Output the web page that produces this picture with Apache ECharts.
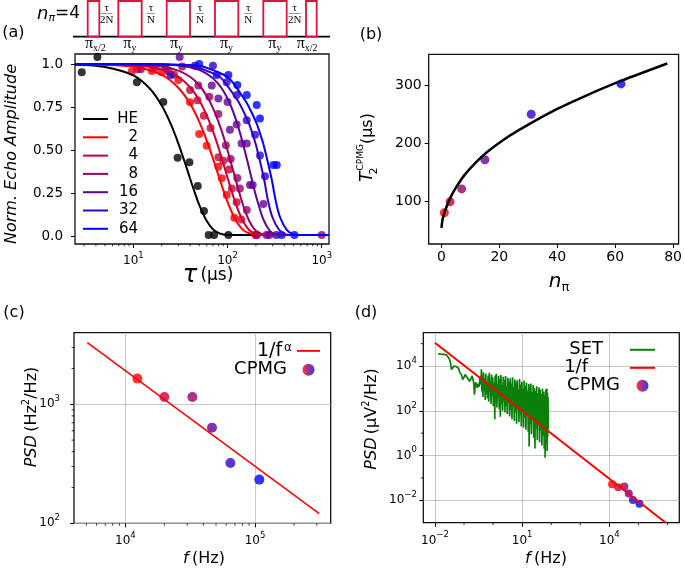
<!DOCTYPE html>
<html><head><meta charset="utf-8">
<script src="https://cdn.jsdelivr.net/npm/echarts@6/dist/echarts.min.js"></script>
<style>html,body{margin:0;padding:0;background:#fff}#c{width:685px;height:572px}</style>
</head><body><div id="c"></div>
<script>
// ---------- Panel (a): normalized echo amplitude vs tau (µs) ----------
const seqNames = ['HE','2','4','8','16','32','64'];
const seqColors = ['#000000','#ff0000','#cc0033','#990066','#660099','#3300cc','#0000ff'];
const ptsHE = [[2.83,0.952],[4.15,1.04],[10.9,0.894],[20.8,0.78],[29.5,0.457],[39.4,0.431],[48.3,0.294],[56.2,0.149],[63,0.01],[72,0.01],[102,0.01]];
const pts2  = [[9.6,0.956],[15.7,0.96],[20,0.952],[30,0.907],[40,0.778],[50,0.595],[60,0.527],[80,0.405],[87,0.338],[98,0.241],[118,0.11],[200,0.01]];
const pts4  = [[11,0.97],[17,0.975],[27,0.94],[40,0.85],[48,0.79],[56,0.70],[66,0.63],[80,0.46],[90,0.44],[104,0.39],[111,0.28],[125,0.20],[140,0.10],[205,0.01]];
const pts8  = [[12,0.97],[23.5,0.96],[33,0.985],[49,0.875],[64,0.81],[80,0.71],[96,0.53],[108,0.45],[127,0.34],[135,0.28],[160,0.155],[200,0.01],[1000,0.01]];
const pts16 = [[22,0.98],[31,1.04],[68,0.875],[80,0.80],[100,0.78],[106,0.62],[125,0.65],[141,0.54],[160,0.54],[173,0.30],[185,0.30],[240,0.19],[260,0.01],[278,0.01]];
const pts32 = [[45,0.99],[70,0.99],[98,0.895],[125,0.82],[160,0.675],[196,0.59],[221,0.47],[250,0.35],[330,0.01]];
const pts64 = [[24.9,0.936],[50,1.0],[76.7,0.936],[102,0.936],[127,0.878],[160,0.82],[204,0.763],[221,0.685],[307,0.415],[333,0.415],[376,0.01],[513,0.01]];
const fitHE = [[2.4,0.996],[5,0.983],[10,0.934],[15,0.857],[20,0.76],[25,0.652],[30,0.541],[35,0.434],[40,0.337],[45,0.254],[50,0.185],[60,0.092],[70,0.043],[80,0.022],[90,0.013],[100,0.011],[150,0.01],[1195,0.01]];
const fit2  = [[2.4,1.0],[10,0.984],[20,0.937],[30,0.863],[40,0.771],[50,0.666],[60,0.558],[70,0.453],[80,0.356],[90,0.271],[100,0.201],[120,0.103],[140,0.05],[160,0.025],[200,0.011],[250,0.01],[1195,0.01]];
const fit4  = [[2.4,1.0],[10,0.993],[20,0.969],[30,0.926],[40,0.866],[50,0.79],[60,0.704],[70,0.611],[80,0.517],[90,0.426],[100,0.342],[120,0.203],[140,0.11],[160,0.056],[180,0.028],[220,0.012],[260,0.01],[1195,0.01]];
const fit8  = [[2.4,1.0],[10,0.997],[20,0.986],[30,0.962],[40,0.926],[50,0.877],[60,0.816],[70,0.745],[80,0.667],[90,0.585],[100,0.501],[120,0.345],[140,0.216],[160,0.124],[180,0.066],[200,0.035],[250,0.012],[300,0.01],[1195,0.01]];
const fit16 = [[2.4,1.0],[20,0.997],[40,0.981],[60,0.945],[80,0.885],[100,0.8],[120,0.694],[140,0.575],[160,0.453],[180,0.338],[200,0.238],[240,0.1],[280,0.036],[320,0.015],[400,0.01],[1195,0.01]];
const fit32 = [[2.4,1.0],[17,0.998],[41,0.99],[64,0.955],[83,0.925],[95,0.89],[117,0.82],[133,0.775],[151,0.715],[169,0.655],[186,0.59],[199,0.537],[225,0.42],[245,0.33],[271,0.2],[301,0.11],[353,0.04],[415,0.014],[500,0.01],[1195,0.01]];
const fit64 = [[2.4,1.0],[20,0.998],[50,0.99],[77,0.955],[100,0.925],[115,0.89],[141,0.82],[160,0.775],[182,0.715],[204,0.655],[224,0.59],[240,0.537],[271,0.42],[295,0.33],[327,0.2],[363,0.11],[425,0.04],[500,0.014],[600,0.01],[1195,0.01]];
const aXMajor = [10,100,1000];
const aXMinor = [3,4,5,6,7,8,9,20,30,40,50,60,70,80,90,200,300,400,500,600,700,800,900];
const aYTicks = [0,0.25,0.5,0.75,1];
const aYLabels = ['0.0','0.25','0.50','0.75','1.0'];

// ---------- Panel (b): T2 vs number of pi pulses ----------
const bN = [1,3,7,15,31,62];
const bT2 = [81,100,122,172,250,302];
const bFit = [[0,55],[0.5,72],[1.5,88],[3,106],[5,124],[8,146],[12,168],[16,186],[22,208],[30,232],[40,259],[50,282],[62,307],[78,337]];
const bXTicks = [0,20,40,60,80];
const bYTicks = [100,200,300];

// ---------- Panel (c): PSD from CPMG ----------
const cpmgColors = ['#ff0000','#cc0033','#990066','#660099','#3300cc','#0000ff'];
const cF = [12380,20000,32900,46600,64600,108000];
const cPSD = [1645,1152,1152,637,321,233];
const cFit = [[5090,3300],[313000,120.5]];
const cXMajor = [1e4,1e5];
const cXMinor = [5000,6000,7000,8000,9000,20000,30000,40000,50000,60000,70000,80000,90000,200000,300000];
const cYMajor = [100,1000];
const cYMinor = [200,300,400,500,600,700,800,900,2000,3000];

// ---------- Panel (d): SET noise spectrum, 1/f and CPMG ----------
const setLogF = [-1.89,-1.80,-1.70,-1.60,-1.55,-1.50,-1.46,-1.43,-1.39,-1.35,-1.31,-1.27,-1.23,-1.19,-1.15,-1.11,-1.08,-1.05,-1.02,-0.99,-0.96,-0.93,-0.90,-0.87,-0.84,-0.81,-0.78,-0.75,-0.72,-0.69,-0.66,-0.64,-0.62,-0.60,-0.58,-0.56,-0.54,-0.52,-0.50,-0.48,-0.46,-0.44,-0.42,-0.40,-0.39,-0.38,
 -0.37,-0.35,-0.33,-0.31,-0.29,-0.27,-0.25,-0.23,-0.21,-0.19,-0.17,-0.15,-0.13,-0.11,-0.09,-0.07,-0.05,-0.03,-0.01,0.01,0.03,0.05,0.06,0.07,0.09,0.11,0.13,0.15,0.17,0.19,0.21,0.23,0.25,0.27,0.29,0.31,0.33,0.35,0.37,0.39,0.41,0.43,0.45,0.47,0.49,0.51,0.53,0.55,0.57,0.59,0.61,0.63,0.65,0.67,0.69,0.71,0.73,0.75,0.77,0.79,0.81,0.83,0.85,0.87,0.89,0.91,0.93,0.95,0.97,0.99,
 1.01,1.03,1.05,1.07,1.09,1.11,1.13,1.15,1.17,1.19,1.21,1.23,1.24,1.26,1.28,1.30,1.32,1.34,1.36,1.38,1.40,1.42,1.44,1.46,1.48,1.50,1.52,1.54,1.56,1.58,1.60,1.62,1.64,1.66,1.68,1.70,1.72,1.74,1.76,1.78,1.79,1.81,1.83,1.85,1.86,1.87,1.88,1.89,1.90];
const setLogP = [4.54,4.53,4.52,4.50,4.42,4.30,4.12,3.84,3.92,4.00,4.06,3.98,3.96,3.90,3.74,3.66,3.58,3.40,3.36,3.52,3.62,3.70,3.58,3.44,3.50,3.32,3.30,3.46,3.56,3.40,3.18,2.72,3.05,3.28,3.36,3.12,3.02,3.22,3.30,3.08,3.35,3.55,3.18,3.86,3.10,2.85,
 3.60,2.62,3.72,2.90,3.45,2.48,3.66,2.75,3.30,2.55,3.58,2.40,3.70,2.85,3.40,2.30,3.62,2.65,3.50,2.20,3.25,2.45,1.62,3.58,2.38,3.66,2.15,3.20,2.58,3.55,2.08,3.42,1.74,3.60,2.30,3.15,2.00,3.52,2.42,3.38,1.92,3.56,2.20,3.10,1.85,3.48,2.35,3.30,1.75,3.45,2.05,3.22,1.62,3.50,2.18,3.05,1.55,3.40,1.95,3.28,1.42,3.36,2.10,2.95,1.50,3.42,1.80,3.18,1.30,3.30,
 1.95,3.00,1.25,3.35,1.70,3.12,1.15,3.25,1.85,2.90,1.05,3.20,0.40,3.05,1.40,3.22,0.95,2.85,1.60,3.15,0.80,3.02,0.32,2.90,1.20,3.10,0.70,2.80,1.35,3.05,0.60,2.95,1.10,2.75,0.45,3.00,0.90,2.85,0.30,2.70,-0.10,2.95,0.55,3.00,0.20,2.80,0.85,2.60,1.20];
const dPSD = [0.052,0.038,0.041,0.020,0.0103,0.0070];
const dFit = [[0.01,1.1e5],[8.7e5,1e-3]];
const dXMajor = [0.01,10,1e4];
const dXMinor = [0.1,1,100,1000,1e5,1e6];
const dYMajor = [0.01,1,100,1e4];
const dYMinor = [0.1,10,1000,1e5];

// ---------- helpers ----------
const FF = "'DejaVu Sans', sans-serif";
const SERIF = "'Liberation Serif','DejaVu Serif', serif";
const CRIMSON = '#dc143c';
function logLabel(v){ const e = Math.round(Math.log10(v)); return '{b|10}{s|' + (e < 0 ? '\u2212' + (-e) : e) + '}'; }
function logRich(fs, ss){ return {b:{fontSize:fs, fontFamily:FF, color:'#000', lineHeight:fs+8}, s:{fontSize:ss, fontFamily:FF, color:'#000', lineHeight:ss+2, verticalAlign:'top'}}; }
function colored(xs, ys, cols){ return xs.map((x,i)=>({value:[x, ys[i]], itemStyle:{color:cols[i]}})); }
function tickSeries(xi, yi, vals, dir, base, len){
  return {type:'custom', coordinateSystem:'cartesian2d', xAxisIndex:xi, yAxisIndex:yi, silent:true, clip:false, z:6,
    data: vals.map(v => dir === 'x' ? [v, base] : [base, v]),
    renderItem: function(params, api){
      const p = api.coord([api.value(0), api.value(1)]);
      const shape = dir === 'x' ? {x1:p[0], y1:p[1], x2:p[0], y2:p[1]+len} : {x1:p[0], y1:p[1], x2:p[0]-len, y2:p[1]};
      return {type:'line', shape: shape, style:{stroke:'#000', lineWidth:0.8}};
    }};
}
const majTick = (vals) => ({show:true, customValues:vals, length:4, lineStyle:{color:'#000', width:1}});
const noLine = {show:false, onZero:false};
const gridLine = {show:true, lineStyle:{color:'#b8b8b8', width:0.8}};
const gridBox = {show:true, borderColor:'#111', borderWidth:1.3, backgroundColor:'rgba(0,0,0,0)'};

const pts = [ptsHE, pts2, pts4, pts8, pts16, pts32, pts64];
const fits = [fitHE, fit2, fit4, fit8, fit16, fit32, fit64];

const series = [];
seqNames.forEach((n, i) => {
  series.push({name: n + ' data', type:'scatter', xAxisIndex:0, yAxisIndex:0, data: pts[i], symbolSize:8, itemStyle:{color: seqColors[i]}});
  series.push({name: n, type:'line', xAxisIndex:0, yAxisIndex:0, data: fits[i], symbol:'none', smooth:0.3, lineStyle:{width:2, color: seqColors[i]}, itemStyle:{color: seqColors[i]}});
});
series.push({name:'bfit', type:'line', xAxisIndex:1, yAxisIndex:1, data:bFit, symbol:'none', smooth:0.3, lineStyle:{width:2.5, color:'#000'}});
series.push({name:'bpts', type:'scatter', xAxisIndex:1, yAxisIndex:1, data: colored(bN, bT2, cpmgColors), symbolSize:9});
series.push({name:'cFit', type:'line', xAxisIndex:2, yAxisIndex:2, data:cFit, symbol:'none', lineStyle:{width:1.5, color:'#ff0000'}, itemStyle:{color:'#ff0000'}});
series.push({name:'cCPMG', type:'scatter', xAxisIndex:2, yAxisIndex:2, data: colored(cF, cPSD, cpmgColors), symbolSize:10, itemStyle:{color:'#7f007f'}});
series.push({name:'SET', type:'line', xAxisIndex:3, yAxisIndex:3, data: setLogF.map((lf,i)=>[Math.pow(10,lf), Math.pow(10,setLogP[i])]), symbol:'none', lineStyle:{width:1.7, color:'#0a800a'}, itemStyle:{color:'#0a800a'}});
series.push({name:'dFit', type:'line', xAxisIndex:3, yAxisIndex:3, data:dFit, symbol:'none', lineStyle:{width:2, color:'#ff0000'}, itemStyle:{color:'#ff0000'}});
series.push({name:'dCPMG', type:'scatter', xAxisIndex:3, yAxisIndex:3, data: colored(cF, dPSD, cpmgColors), symbolSize:8, itemStyle:{color:'#7f007f'}});
series.push(tickSeries(0,0,aXMinor,'x',-0.042,2.2));
series.push(tickSeries(2,2,cXMinor,'x',100,2.4));
series.push(tickSeries(2,2,cYMinor,'y',4018,2.4));
series.push(tickSeries(3,3,dXMinor,'x',1e-3,2.4));
series.push(tickSeries(3,3,dYMinor,'y',Math.pow(10,-2.4),2.4));

const grad = () => new echarts.graphic.LinearGradient(0,0,1,0,[{offset:0,color:'#ff0000'},{offset:1,color:'#0000ff'}]);
const LINEICON = 'path://M0,0H25V2H0Z';
const legNames = {cFit:'{t|1/f}{s|\u03b1}', cCPMG:'{t2|CPMG}', SET:'{ta|SET}', dFit:'{tb|1/f}', dCPMG:'{tc|CPMG}'};

const graphic = [];
// pulse sequence sketch
graphic.push({type:'line', shape:{x1:73, y1:36.7, x2:330, y2:36.7}, style:{stroke:'#000', lineWidth:1.8}});
[[87.7,99.3],[118.3,141.7],[166.7,190],[215,238.3],[263.3,286.7],[306,316.7]].forEach(r => {
  graphic.push({type:'rect', shape:{x:r[0], y:1, width:r[1]-r[0], height:35.7}, style:{fill:'none', stroke:CRIMSON, lineWidth:1.8}});
});
[[106.7,'2N'],[151,'N'],[200,'N'],[248.3,'N'],[294.7,'2N']].forEach(f => {
  graphic.push({type:'text', x:f[0], y:8, style:{text:'\u03c4', font:'11px ' + SERIF, fill:'#000', align:'center', verticalAlign:'middle'}});
  graphic.push({type:'line', shape:{x1:f[0]-(f[1]==='2N'?6:4), y1:13.5, x2:f[0]+(f[1]==='2N'?6:4), y2:13.5}, style:{stroke:'#999', lineWidth:1}});
  graphic.push({type:'text', x:f[0], y:20, style:{text:f[1], font:'11px ' + SERIF, fill:'#000', align:'center', verticalAlign:'middle'}});
});
[[85,'x/2'],[123.3,'y'],[170,'y'],[220,'y'],[268.3,'y'],[296.7,'x/2']].forEach(p => {
  graphic.push({type:'text', x:p[0], y:44, style:{text:'{p|\u03c0}{s|' + p[1] + '}', align:'left', verticalAlign:'middle',
    rich:{p:{fontSize:16, fontFamily:SERIF, color:'#000', lineHeight:18}, s:{fontSize:10, fontFamily:SERIF, color:'#000', verticalAlign:'bottom', lineHeight:10}}}});
});
graphic.push({type:'text', x:37, y:14, style:{text:'{n|n}{s|\u03c0}{e|=4}', align:'left', verticalAlign:'middle',
  rich:{n:{fontSize:18, fontStyle:'italic', fontFamily:FF, color:CRIMSON, lineHeight:20}, s:{fontSize:11, fontStyle:'italic', fontFamily:FF, color:CRIMSON, verticalAlign:'bottom', lineHeight:11}, e:{fontSize:17, fontFamily:FF, color:CRIMSON, lineHeight:20}}}});
// panel labels
[['(a)',13.3,32.5],['(b)',371,35],['(c)',14,312.5],['(d)',366,312.5]].forEach(l => {
  graphic.push({type:'text', x:l[1], y:l[2], style:{text:l[0], font:'16px ' + FF, fill:'#000', align:'center', verticalAlign:'middle'}});
});
// axis titles
function title(x, y, rot, text, rich){ graphic.push({type:'text', x:x, y:y, rotation:rot, style:{text:text, rich:rich, align:'center', verticalAlign:'middle'}}); }
const R90 = Math.PI/2;
title(208, 276, 0, '{t|\u03c4} {u|(\u00b5s)}', {t:{fontSize:24, fontStyle:'italic', fontFamily:FF, color:'#000'}, u:{fontSize:17, fontFamily:FF, color:'#000'}});
title(11.7, 154, R90, '{i|Norm. Echo Amplitude}', {i:{fontSize:16, fontStyle:'italic', fontFamily:FF, color:'#000'}});
title(559, 282, 0, '{n|n}{s|\u03c0}', {n:{fontSize:20, fontStyle:'italic', fontFamily:FF, color:'#000', lineHeight:24}, s:{fontSize:13, fontFamily:FF, color:'#000', verticalAlign:'bottom', lineHeight:13}});
title(368, 147.5, R90, '{T|T}{s|2}{p|CPMG}{u|(\u00b5s)}', {T:{fontSize:17, fontStyle:'italic', fontFamily:FF, color:'#000', lineHeight:24}, s:{fontSize:11, fontFamily:FF, color:'#000', verticalAlign:'bottom', lineHeight:11, width:1}, p:{fontSize:9, fontFamily:FF, color:'#000', verticalAlign:'top', lineHeight:10}, u:{fontSize:16, fontFamily:FF, color:'#000', lineHeight:24}});
title(204, 559, 0, '{i|f} {u|(Hz)}', {i:{fontSize:16, fontStyle:'italic', fontFamily:FF, color:'#000'}, u:{fontSize:16, fontFamily:FF, color:'#000'}});
title(32, 417, R90, '{i|PSD} {u|(Hz}{s|2}{u|/Hz)}', {i:{fontSize:16, fontStyle:'italic', fontFamily:FF, color:'#000', lineHeight:22}, u:{fontSize:16, fontFamily:FF, color:'#000', lineHeight:22}, s:{fontSize:10, fontFamily:FF, color:'#000', verticalAlign:'top', lineHeight:12}});
title(546, 559, 0, '{i|f} {u|(Hz)}', {i:{fontSize:16, fontStyle:'italic', fontFamily:FF, color:'#000'}, u:{fontSize:16, fontFamily:FF, color:'#000'}});
title(372, 419, R90, '{i|PSD} {u|(\u00b5V}{s|2}{u|/Hz)}', {i:{fontSize:16, fontStyle:'italic', fontFamily:FF, color:'#000', lineHeight:22}, u:{fontSize:16, fontFamily:FF, color:'#000', lineHeight:22}, s:{fontSize:10, fontFamily:FF, color:'#000', verticalAlign:'top', lineHeight:12}});

const option = {
  animation:false,
  backgroundColor:'#fff',
  textStyle:{fontFamily:FF},
  grid:[
    Object.assign({left:75, top:54, width:254, height:190}, gridBox),
    Object.assign({left:428.7, top:54.3, width:253.3, height:189.7}, gridBox),
    Object.assign({left:74, top:332.7, width:256.7, height:190.6}, gridBox),
    Object.assign({left:423.3, top:332.7, width:256, height:190}, gridBox)
  ],
  xAxis:[
    {gridIndex:0, type:'log', min:2.4, max:1195, axisLine:noLine, splitLine:{show:false}, axisTick:majTick(aXMajor),
      axisLabel:{customValues:aXMajor, formatter:logLabel, rich:logRich(12,8.5), margin:7}},
    {gridIndex:1, type:'value', min:-4.4, max:81.9, axisLine:noLine, splitLine:{show:false}, axisTick:majTick(bXTicks),
      axisLabel:{customValues:bXTicks, fontSize:14, color:'#000', fontFamily:FF, margin:6}},
    {gridIndex:2, type:'log', min:4018, max:383500, axisLine:noLine, splitLine:gridLine, axisTick:majTick(cXMajor),
      axisLabel:{customValues:cXMajor, formatter:logLabel, rich:logRich(12,8.5), margin:8}},
    {gridIndex:3, type:'log', min:Math.pow(10,-2.4), max:Math.pow(10,6.405), axisLine:noLine, splitLine:gridLine, axisTick:majTick(dXMajor),
      axisLabel:{customValues:dXMajor, formatter:logLabel, rich:logRich(12,8.5), margin:8}}
  ],
  yAxis:[
    {gridIndex:0, type:'value', min:-0.042, max:1.058, axisLine:noLine, splitLine:{show:false}, axisTick:majTick(aYTicks),
      axisLabel:{customValues:aYTicks, formatter:v => aYLabels[Math.round(v*4)], fontSize:13.5, color:'#000', fontFamily:FF, margin:12}},
    {gridIndex:1, type:'value', min:27.5, max:352.7, axisLine:noLine, splitLine:{show:false}, axisTick:majTick(bYTicks),
      axisLabel:{customValues:bYTicks, fontSize:14, color:'#000', fontFamily:FF, margin:7}},
    {gridIndex:2, type:'log', min:100, max:4000, axisLine:noLine, splitLine:gridLine, axisTick:majTick(cYMajor),
      axisLabel:{customValues:cYMajor, formatter:logLabel, rich:logRich(12,8.5), margin:14}},
    {gridIndex:3, type:'log', min:1e-3, max:Math.pow(10,5.49), axisLine:noLine, splitLine:gridLine, axisTick:majTick(dYMajor),
      axisLabel:{customValues:dYMajor, formatter:logLabel, rich:logRich(12,8.5), margin:6.5}}
  ],
  legend:[
    {orient:'vertical', left:83, top:111, padding:0, itemWidth:25, itemHeight:14, itemGap:2.3, selectedMode:false, icon:LINEICON,
      data: seqNames, formatter: n => '{t|' + n + '}',
      textStyle:{lineHeight:16, rich:{t:{width:25, align:'right', fontSize:15, fontFamily:FF, color:'#000', lineHeight:16}}}},
    {orient:'vertical', align:'right', right:365, top:341.4, padding:0, itemWidth:23, itemHeight:12, itemGap:0, selectedMode:false,
      data:[{name:'cFit', icon:LINEICON}, {name:'cCPMG', icon:'circle', itemStyle:{color:grad()}}],
      formatter: n => legNames[n],
      textStyle:{lineHeight:18.6, rich:{t:{fontSize:19, fontFamily:FF, color:'#000', lineHeight:18.6, padding:[0,2,0,0]}, s:{fontSize:12, fontFamily:FF, color:'#000', verticalAlign:'top', lineHeight:11}, t2:{fontSize:18, fontFamily:FF, color:'#000', lineHeight:18.6, padding:[0,5,0,0]}}}},
    {orient:'vertical', align:'right', right:30, top:340.8, padding:0, itemWidth:25, itemHeight:12, itemGap:0, selectedMode:false,
      data:[{name:'SET', icon:LINEICON}, {name:'dFit', icon:LINEICON}, {name:'dCPMG', icon:'circle', itemStyle:{color:grad()}}],
      formatter: n => legNames[n],
      textStyle:{lineHeight:17.3, rich:{ta:{fontSize:18, fontFamily:FF, color:'#000', lineHeight:17.3, padding:[0,22,0,0]}, tb:{fontSize:18, fontFamily:FF, color:'#000', lineHeight:17.3, padding:[0,37,0,0]}, tc:{fontSize:18, fontFamily:FF, color:'#000', lineHeight:17.3, padding:[0,5,0,0]}}}}
  ],
  graphic: graphic,
  series: series
};
const chart = echarts.init(document.getElementById('c'), null, {renderer:'canvas', width:685, height:572});
chart.setOption(option);
</script>
</body></html>
